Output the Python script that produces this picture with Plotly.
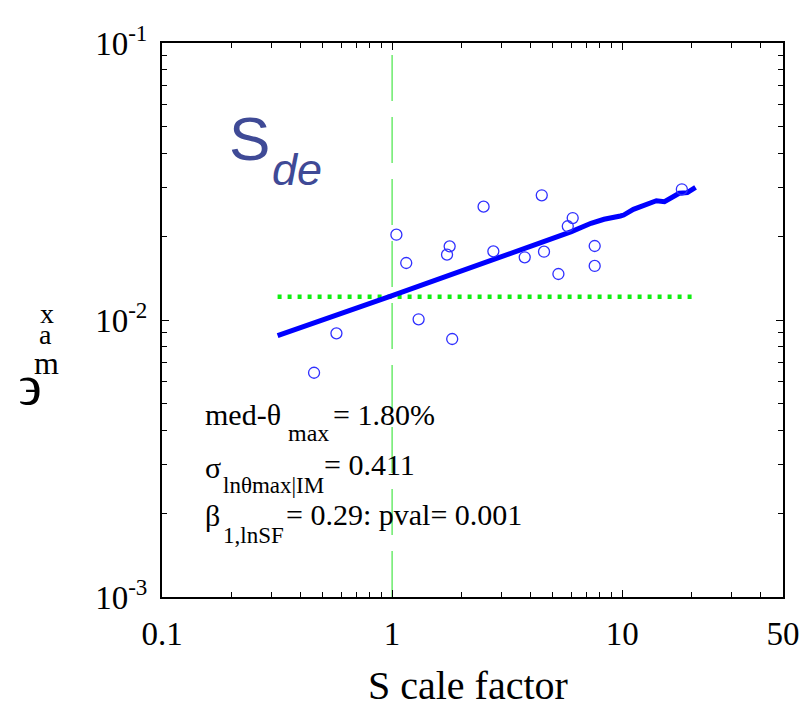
import plotly.graph_objects as go

# Scaled records: scale factor vs. peak drift ratio
sf_points = [0.458, 0.573, 1.044, 1.152, 1.304, 1.733, 1.779, 1.825, 2.498, 2.755,
             3.771, 4.472, 4.574, 5.283, 5.803, 6.095, 7.595, 7.595, 18.17]
theta_points = [0.00645, 0.00895, 0.02032, 0.01606, 0.01006, 0.01721, 0.01845, 0.00854,
                0.02565, 0.0177, 0.01684, 0.0282, 0.01764, 0.01466, 0.0218, 0.02334,
                0.0185, 0.01567, 0.02964]

# Fitted trend of ln(theta_max) on ln(SF)
fit_sf = [0.318, 0.994, 4.34, 6.02, 7.32, 8.34, 9.82, 10.15, 11.19, 14.08, 15.27,
          17.69, 19.19, 20.84]
fit_theta = [0.00878, 0.01221, 0.01892, 0.02084, 0.02234, 0.0231, 0.02374, 0.02393,
             0.0251, 0.02696, 0.02674, 0.02867, 0.02882, 0.03013]

# Reference levels
unscaled_sf = 1.0
theta_at_unit_sf = 0.01214
theta_limits = [1e-3, 1e-1]

x_tick_vals = [0.1, 1, 10, 50]
x_tick_text = ["0.1", "1", "10", "50"]
y_tick_vals = [1e-3, 1e-2, 1e-1]
y_tick_text = ["10<sup>-3</sup>", "10<sup>-2</sup>", "10<sup>-1</sup>"]

SERIF = "Liberation Serif, Times New Roman, serif"
SANS = "Liberation Sans, Arial, sans-serif"

W, H = 812, 703
L, R, T, B = 162, 16, 43, 106
PW, PH = W - L - R, H - T - B


def px(x):
    return (x - L) / PW


def py(y):
    return (H - B - y) / PH


fig = go.Figure()

# vertical reference at SF = 1
fig.add_trace(go.Scatter(
    x=[unscaled_sf, unscaled_sf], y=theta_limits, mode="lines",
    line=dict(color="#22e022", width=1, dash="46px,16px"),
    hoverinfo="skip", showlegend=False))

# horizontal level of the fit at SF = 1
fig.add_trace(go.Scatter(
    x=[fit_sf[0], fit_sf[-1]], y=[theta_at_unit_sf, theta_at_unit_sf], mode="lines",
    line=dict(color="#11ee11", width=4.5, dash="4px,6px"),
    hoverinfo="skip", showlegend=False))

# regression line
fig.add_trace(go.Scatter(
    x=fit_sf, y=fit_theta, mode="lines",
    line=dict(color="#0000ff", width=5),
    hoverinfo="skip", showlegend=False))

# individual records
fig.add_trace(go.Scatter(
    x=sf_points, y=theta_points, mode="markers",
    marker=dict(symbol="circle-open", size=11, color="#3030ff", line=dict(width=1.3)),
    showlegend=False))

ann = []


def text_at(x, baseline, txt, size, color="black", family=SERIF, anchor="left"):
    # place by approximate baseline (pixel coordinates)
    ann.append(dict(
        x=px(x), y=py(baseline - 0.30 * size), xref="paper", yref="paper",
        text=txt, showarrow=False, xanchor=anchor, yanchor="middle",
        font=dict(family=family, size=size, color=color)))


# S_de label
text_at(228, 157, "S", 62, color="#3f4a96", family=SANS)
text_at(272, 183, "<i>de</i>", 45, color="#3f4a96", family=SANS)

# statistics block
text_at(204, 423, "med-θ", 30)
text_at(289, 440, "max", 24)
text_at(335, 423, "= 1.80%", 30)

text_at(204, 476, "σ", 30)
text_at(222, 492, "lnθmax|IM", 23)
text_at(325, 473, "= 0.411", 30)

text_at(204, 524, "β", 30)
text_at(222, 542, "1,lnSF", 23)
text_at(287, 523, "= 0.29: pval= 0.001", 30)

# y-axis title, glyph stack
text_at(45, 322, "x", 28, anchor="center")
text_at(43, 343, "a", 28, anchor="center")
text_at(44, 373, "m", 32, anchor="center")
text_at(28, 402, "϶", 56, anchor="center")

# x-axis title
ann.append(dict(
    x=px(474), y=py(685), xref="paper", yref="paper", text="S cale factor",
    showarrow=False, xanchor="center", yanchor="middle",
    font=dict(family=SERIF, size=40, color="black")))

axis_common = dict(
    type="log", showline=True, linecolor="black", linewidth=2, mirror="ticks",
    ticks="inside", ticklen=7, tickwidth=1, tickcolor="black",
    showgrid=False, zeroline=False,
    minor=dict(ticks="inside", ticklen=5, tickwidth=1, tickcolor="black",
               dtick="D1", showgrid=False),
    tickfont=dict(family=SERIF, size=33, color="black"),
    tickmode="array",
    ticklabeloverflow="allow",
)

fig.update_layout(
    width=W, height=H,
    margin=dict(l=L, r=R, t=T, b=B),
    paper_bgcolor="white", plot_bgcolor="white",
    xaxis=dict(range=[-1, 1.69897], tickvals=x_tick_vals, ticktext=x_tick_text,
               ticklabelstandoff=6, **axis_common),
    yaxis=dict(range=[-3, -1], tickvals=y_tick_vals, ticktext=y_tick_text,
               ticklabelstandoff=6, **axis_common),
    annotations=ann,
)

fig.write_html("out.html")
